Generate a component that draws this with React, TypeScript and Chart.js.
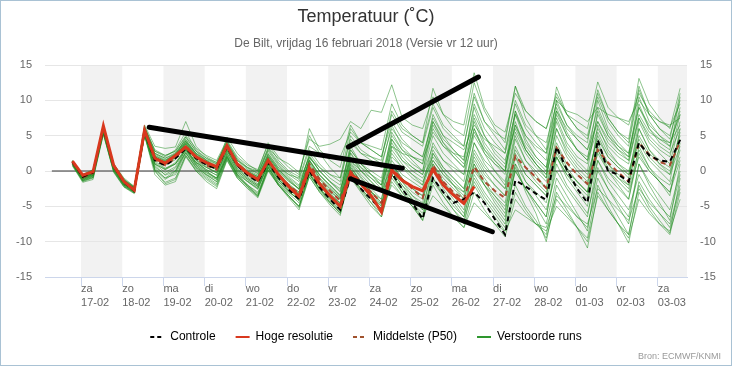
import React, { useEffect, useRef } from 'react';
import { Chart, registerables } from 'chart.js';

Chart.register(...registerables);

// ---------- axis / labels ----------
const dayLabels: string[][] = [
  ['za', '17-02'], ['zo', '18-02'], ['ma', '19-02'], ['di', '20-02'], ['wo', '21-02'],
  ['do', '22-02'], ['vr', '23-02'], ['za', '24-02'], ['zo', '25-02'], ['ma', '26-02'],
  ['di', '27-02'], ['wo', '28-02'], ['do', '01-03'], ['vr', '02-03'], ['za', '03-03'],
];
const greyBandDays = [0, 2, 4, 6, 8, 10, 12, 14];
const yMin = -15;
const yMax = 15;
const yStep = 5;
const xMinHour = -21;
const xMaxHour = 353;

// first value: 16-02 19:00 (hours relative to 17-02 00:00), 6-hourly
const startHour = -5;
const stepHours = 6;

// ---------- series ----------
const hogeResolutie = [
  1.4, -0.6, -0.1, 6.4, 0.8, -1.5, -2.7, 5.8, 1.8, 1.1,
  2.2, 3.4, 2.0, 1.2, 0.6, 3.6, 1.0, -0.3, -1.2, 1.5,
  -0.5, -2.2, -3.6, 0.4, -1.8, -3.5, -5.0, -0.3, -1.8, -3.5,
  -5.8, 0.1, -1.3, -2.2, -2.8, 0.2, -2.0, -3.4, -4.6, -2.2,
];

const controle = [
  1.3, -0.8, -0.2, 6.1, 0.7, -1.6, -2.8, 5.6, 1.5, 0.8,
  1.8, 3.2, 1.8, 0.9, 0.3, 3.4, 0.8, -0.6, -1.5, 1.2,
  -0.9, -2.6, -4.0, 0.0, -2.3, -4.0, -5.5, -0.8, -2.5, -4.0,
  -5.5, -0.3, -2.5, -4.5, -6.8, -1.0, -3.0, -4.5, -4.0, -3.0,
  -4.5, -6.8, -9.0, -1.3, -2.2, -3.2, -4.1, 3.4, 0.2, -2.5,
  -4.5, 4.4, 0.0, -0.5, -1.5, 4.0, 2.2, 1.5, 1.3, 4.4,
];

const middelste = [
  1.2, -0.9, -0.3, 6.0, 0.6, -1.6, -2.6, 5.7, 1.6, 0.8,
  1.8, 3.6, 1.8, 0.8, 0.2, 3.4, 0.8, -0.5, -1.4, 1.6,
  -0.6, -2.0, -3.2, 1.0, -1.2, -2.8, -4.2, 0.0, -1.5, -3.0,
  -4.5, 0.5, -1.2, -2.5, -3.8, 0.8, -1.5, -3.0, -4.0, 0.6,
  -1.5, -2.8, -3.8, 2.1, 0.5, -0.9, -2.4, 3.3, 1.2, -0.5,
  -1.8, 3.0, 1.2, -0.2, -1.5, 4.0, 2.3, 1.3, 0.8, 4.2,
];

const verstoordeRuns: number[][] = [
  [1.3, -0.8, -0.2, 6.0, 0.8, -1.4, -2.4, 5.9, 2.5, 1.8, 2.4, 4.2, 2.5, 1.6, 1.0, 3.8, 1.5, 0.5, 0.0, 3.2, 1.8, 1.0, -0.2, 4.5, 3.5, 3.8, 4.5, 7.0, 6.0, 8.6, 8.3, 12.2, 7.6, 6.5, 6.0, 10.5, 8.0, 7.0, 6.5, 13.9, 9.0, 6.5, 5.5, 11.0, 8.5, 7.0, 6.0, 10.5, 8.0, 7.0, 6.0, 12.6, 9.0, 7.5, 6.5, 11.0, 8.5, 7.0, 6.2, 9.5],
  [1.0, -1.2, -0.6, 5.6, 0.4, -1.8, -2.8, 5.2, 1.0, 0.2, 1.0, 3.0, 1.2, 0.5, -0.2, 2.8, 0.8, -0.2, -0.8, 2.5, 0.5, -0.5, -1.0, 3.5, 2.5, 2.0, 2.0, 5.5, 4.0, 3.5, 3.0, 9.5, 6.5, 5.0, 4.0, 11.7, 8.0, 6.0, 5.0, 12.5, 8.5, 6.0, 4.0, 12.0, 7.5, 5.0, 3.0, 11.9, 8.0, 6.0, 5.0, 11.0, 7.5, 5.5, 4.5, 13.1, 9.5, 7.5, 6.0, 11.7],
  [1.5, -0.5, 0.1, 6.3, 1.0, -1.0, -2.2, 6.2, 3.0, 2.2, 2.8, 5.0, 3.2, 2.2, 1.5, 4.4, 2.0, 0.8, 0.2, 3.8, 1.5, 0.0, -0.8, 6.0, 3.0, 1.5, 0.5, 6.5, 4.0, 3.0, 2.0, 8.0, 5.5, 4.5, 3.5, 9.0, 6.0, 4.5, 3.5, 11.0, 7.0, 5.0, 3.0, 9.5, 6.0, 4.0, 2.5, 10.0, 8.5, 8.0, 7.0, 9.0, 8.0, 7.5, 7.0, 10.0, 8.0, 7.0, 6.5, 7.5],
  [0.8, -1.5, -1.0, 5.2, 0.0, -2.2, -3.1, 5.0, 0.2, -1.0, 0.0, 3.2, 1.0, 0.0, -1.0, 2.2, -0.5, -1.5, -2.5, 0.8, -1.5, -3.0, -4.0, 1.8, 0.5, -0.5, -1.0, 4.5, 2.5, 1.5, 0.5, 6.5, 3.5, 2.0, 1.0, 8.0, 5.0, 3.0, 1.5, 9.0, 5.0, 2.5, 1.0, 8.5, 4.5, 2.0, 0.5, 9.0, 5.5, 3.0, 1.5, 10.0, 6.0, 4.0, 2.5, 9.0, 6.0, 4.0, 3.0, 10.5],
  [1.1, -1.0, -0.3, 5.9, 0.6, -1.6, -2.5, 5.6, 2.0, 1.2, 2.0, 4.0, 2.2, 1.0, 0.3, 3.3, 0.8, -0.4, -1.2, 2.0, 0.0, -1.5, -2.5, 2.5, 0.5, -1.0, -2.0, 3.0, 1.0, 0.0, -1.0, 5.0, 3.0, 2.0, 1.0, 6.5, 4.0, 2.5, 1.0, 7.0, 3.5, 1.5, 0.0, 8.0, 4.0, 2.0, 0.5, 7.5, 4.0, 2.0, 1.0, 8.0, 5.0, 3.5, 2.5, 9.5, 6.0, 4.5, 3.5, 8.5],
  [1.3, -0.7, -0.1, 6.1, 0.9, -1.3, -2.3, 6.5, 3.5, 3.2, 3.4, 7.0, 3.5, 2.0, 1.2, 4.2, 1.5, 0.2, -0.6, 3.0, 1.0, -0.5, -1.5, 2.0, 0.0, -1.5, -2.5, 1.5, -0.5, -2.0, -3.0, 3.5, 2.5, 2.0, 1.5, 5.5, 3.5, 2.5, 2.0, 8.0, 5.0, 3.0, 1.5, 6.0, 3.0, 1.0, -0.5, 8.5, 5.0, 3.0, 2.0, 7.0, 4.0, 2.5, 1.5, 8.0, 5.5, 4.5, 4.0, 6.5],
  [0.9, -1.3, -0.7, 5.5, 0.2, -2.0, -3.0, 5.3, 0.5, -1.0, -0.5, 2.5, 0.5, -0.5, -1.2, 2.0, -0.5, -2.0, -3.0, 0.5, -1.5, -3.0, -4.0, 0.0, -2.0, -3.5, -4.5, 2.0, 0.5, -0.5, -1.5, 4.5, 2.0, 0.5, -0.5, 3.5, 1.5, 0.5, -0.5, 5.0, 2.5, 1.0, 0.0, 7.0, 3.0, 1.0, -0.5, 6.0, 2.5, 0.5, -1.0, 5.0, 2.0, 0.5, -0.5, 6.0, 3.0, 1.5, 0.5, 5.0],
  [1.2, -0.9, -0.4, 5.8, 0.5, -1.7, -2.6, 5.7, 1.6, 0.8, 1.6, 3.8, 1.8, 0.8, 0.2, 3.2, 0.6, -0.6, -1.5, 1.6, -0.5, -2.0, -3.2, 0.8, -1.5, -3.0, -4.0, 0.5, -1.5, -3.0, -4.5, 1.5, -0.5, -1.5, -2.5, 2.5, 0.5, -1.0, -2.5, 3.0, 0.5, -1.0, -2.5, 4.5, 1.5, 0.0, -1.5, 4.0, 1.0, -0.5, -2.0, 5.5, 2.5, 1.0, 0.0, 4.5, 2.0, 0.5, -0.5, 3.5],
  [1.4, -0.6, 0.0, 6.2, 0.8, -1.4, -2.4, 6.0, 2.2, 1.5, 2.5, 4.5, 2.5, 1.5, 0.8, 3.8, 1.2, 0.0, -0.8, 2.2, 0.2, -1.2, -2.5, 1.5, -0.5, -2.0, -3.5, 0.0, -1.5, -3.0, -4.0, 2.0, 0.5, -0.5, -1.5, 1.5, -0.5, -2.0, -3.0, 2.0, -0.5, -2.0, -3.5, 3.0, 0.5, -1.0, -2.5, 5.0, 2.0, 0.0, -1.5, 3.5, 1.0, -0.5, -2.0, 5.0, 2.5, 1.0, 0.0, 4.5],
  [1.0, -1.1, -0.5, 5.7, 0.3, -1.9, -2.8, 5.3, 0.2, -1.2, -0.2, 2.8, 0.8, -0.3, -1.0, 2.5, 0.0, -1.2, -2.2, 1.0, -1.0, -2.5, -3.8, -0.5, -2.5, -4.0, -5.0, -1.0, -2.5, -4.0, -5.5, 0.5, -1.5, -3.0, -4.0, 1.0, -1.0, -2.5, -4.0, 1.5, -1.0, -3.0, -4.5, 2.5, -0.5, -2.0, -3.5, 3.0, 0.0, -1.5, -3.0, 4.0, 1.0, -1.0, -2.5, 3.0, 0.5, -1.0, -2.0, 2.0],
  [1.3, -0.8, -0.3, 6.0, 0.7, -1.5, -2.5, 5.8, 2.0, 1.0, 1.8, 3.5, 1.5, 0.5, -0.3, 2.8, 0.3, -1.0, -2.0, 1.2, -0.8, -2.2, -3.5, 0.5, -1.8, -3.2, -4.5, 1.5, 0.0, -1.0, -2.0, 4.0, 1.5, 0.0, -1.0, 2.0, 0.0, -1.5, -3.0, 4.0, 1.0, -1.0, -2.5, 2.0, -0.5, -2.0, -3.5, 2.5, 0.0, -1.5, -3.0, 3.0, 0.5, -1.0, -2.0, 6.0, 3.0, 1.0, -0.5, 5.5],
  [1.1, -1.0, -0.5, 5.8, 0.4, -1.8, -2.7, 5.5, 1.2, 0.3, 1.2, 3.2, 1.2, 0.2, -0.6, 3.0, 0.2, -1.0, -2.0, 1.8, -0.5, -2.0, -3.0, 1.5, -1.0, -2.5, -3.8, 2.5, 0.0, -1.5, -3.0, 1.0, -1.0, -2.5, -3.5, 0.5, -1.5, -3.0, -4.5, 0.0, -2.0, -3.5, -5.0, 1.0, -1.5, -3.0, -4.5, 2.0, -0.5, -2.0, -3.5, 2.5, 0.0, -1.5, -3.0, 2.0, 0.0, -1.5, -3.0, 3.0],
  [1.5, -0.5, 0.2, 6.4, 1.0, -1.2, -2.3, 6.3, 2.8, 2.0, 3.0, 5.5, 3.0, 1.8, 1.0, 4.2, 1.8, 0.5, -0.3, 2.8, 0.8, -0.8, -2.0, 2.0, 0.0, -1.5, -3.0, 3.5, 1.0, -0.5, -2.0, 2.5, 0.5, -1.0, -2.0, 4.0, 1.5, 0.0, -1.5, 6.0, 2.5, 0.0, -2.0, 5.0, 1.5, -0.5, -2.5, 3.5, 0.5, -1.5, -3.0, 6.5, 3.0, 1.0, -0.5, 4.0, 1.5, 0.0, -1.5, 6.0],
  [0.7, -1.6, -1.2, 5.2, -0.2, -2.3, -3.2, 5.0, -0.5, -2.0, -1.5, 2.0, 0.0, -1.5, -2.5, 1.5, -1.0, -2.5, -3.8, 0.0, -2.0, -3.5, -5.0, -0.5, -2.5, -4.5, -6.0, -1.0, -3.0, -5.0, -6.5, -1.0, -3.0, -4.5, -6.0, -1.5, -3.5, -5.5, -7.0, -2.0, -4.5, -6.5, -8.5, -3.0, -5.5, -7.5, -9.0, -2.0, -4.5, -6.5, -8.0, -1.0, -4.0, -6.5, -9.0, -1.5, -4.0, -6.0, -8.0, -2.5],
  [0.9, -1.4, -0.9, 5.4, 0.0, -2.1, -3.0, 5.1, 0.0, -1.8, -1.2, 2.2, 0.2, -1.0, -2.0, 1.8, -0.8, -2.0, -3.2, 0.5, -1.8, -3.2, -4.5, -0.2, -2.5, -4.0, -5.5, 0.5, -1.5, -3.5, -5.5, 0.0, -2.0, -4.0, -5.5, -1.0, -3.0, -5.0, -6.5, -0.5, -3.0, -5.0, -7.0, 1.0, -3.0, -6.0, -10.0, -3.0, -5.5, -8.0, -10.9, -3.0, -5.5, -7.5, -9.0, -2.0, -5.0, -7.0, -8.8, -1.0],
  [1.0, -1.3, -0.8, 5.6, 0.1, -2.0, -3.0, 5.4, 0.6, -0.5, 0.4, 2.6, 0.6, -0.6, -1.5, 2.2, -0.3, -1.5, -2.6, 1.0, -1.2, -2.8, -4.2, 0.2, -2.0, -3.8, -5.2, -0.5, -2.5, -4.5, -6.5, -1.5, -3.5, -5.0, -7.0, -2.0, -4.5, -6.5, -8.0, -3.0, -5.5, -7.5, -9.3, -4.0, -6.0, -7.5, -8.5, -5.0, -6.5, -8.0, -9.5, -2.0, -5.0, -7.5, -10.2, -3.0, -5.5, -7.5, -9.0, -3.0],
  [1.2, -1.0, -0.4, 5.9, 0.5, -1.7, -2.7, 5.6, 1.4, 0.4, 1.0, 3.0, 0.8, -0.5, -1.5, 2.0, -0.5, -2.0, -3.5, 0.5, -2.0, -3.8, -5.5, -0.8, -3.0, -4.8, -6.3, 0.0, -2.0, -3.5, -5.0, 1.0, -1.5, -3.5, -5.0, 0.0, -2.0, -4.0, -6.0, 1.0, -2.0, -4.5, -6.5, 0.0, -2.5, -4.5, -6.5, 1.0, -2.0, -4.0, -6.0, 0.0, -2.5, -4.5, -6.5, 1.0, -1.5, -3.5, -5.5, 0.0],
  [1.3, -0.7, -0.2, 6.1, 0.7, -1.5, -2.5, 6.0, 2.4, 1.6, 2.2, 3.8, 1.5, 0.0, -1.2, 2.0, -0.6, -2.2, -3.6, 0.6, -1.8, -3.5, -5.2, -0.8, -3.0, -4.5, -6.0, -0.5, -2.5, -4.0, -5.5, -2.0, -3.5, -5.0, -6.5, -3.5, -5.0, -6.5, -8.0, -4.5, -6.0, -7.5, -8.5, -5.5, -6.5, -7.5, -8.0, -3.5, -5.0, -6.5, -7.5, -2.5, -4.0, -5.5, -7.0, -2.5, -4.5, -6.0, -7.5, -2.0],
  [1.2, -0.9, -0.3, 6.0, 0.6, -1.6, -2.6, 5.6, 1.8, 1.0, 2.0, 4.8, 2.8, 1.5, 0.5, 4.8, 2.5, 1.0, 0.0, 4.0, 2.0, 0.5, -0.5, 5.0, 2.5, 0.5, -1.0, 6.0, 4.0, 3.0, 2.0, 7.0, 4.5, 3.0, 2.0, 7.5, 5.0, 4.0, 3.0, 6.5, 4.5, 3.5, 2.5, 10.0, 6.5, 5.0, 4.0, 9.5, 6.5, 5.0, 4.0, 11.5, 7.5, 5.5, 4.0, 12.0, 8.0, 6.0, 5.0, 10.0],
  [1.4, -0.7, 0.0, 6.3, 0.9, -1.3, -2.4, 6.1, 2.0, 1.2, 2.0, 3.9, 2.0, 1.0, 0.2, 3.5, 0.8, -0.5, -1.5, 1.5, -0.5, -2.0, -3.2, 1.0, -1.2, -2.8, -4.0, 1.2, -0.8, -2.5, -4.0, 3.0, 1.0, -0.5, -2.0, 3.0, 0.5, -1.0, -2.5, 4.0, 1.5, 0.0, -1.5, 5.5, 2.5, 0.5, -1.0, 6.0, 3.0, 1.0, -0.5, 4.5, 2.0, 0.5, -1.0, 7.0, 4.0, 2.5, 1.0, 7.0],
  [1.2, -0.9, -0.4, 5.9, 0.6, -1.6, -2.6, 5.8, 2.2, 1.4, 2.2, 4.0, 2.0, 1.0, 0.4, 3.4, 0.9, -0.3, -1.2, 1.8, -0.3, -1.8, -3.0, 1.2, -1.0, -2.5, -3.8, 2.0, 0.0, -1.5, -3.0, 3.5, 1.5, 0.5, -0.5, 5.0, 2.5, 1.0, -0.5, 7.5, 4.0, 2.0, 0.5, 6.5, 3.0, 1.0, -1.0, 7.0, 3.5, 1.5, 0.0, 8.5, 5.0, 3.0, 1.5, 7.5, 4.5, 3.0, 2.0, 8.0],
  [1.1, -1.1, -0.6, 5.7, 0.3, -1.9, -2.9, 5.4, 1.0, -0.2, 0.6, 3.0, 1.0, -0.2, -1.0, 2.4, -0.2, -1.4, -2.4, 0.8, -1.2, -2.8, -4.2, 0.2, -2.2, -3.8, -5.2, 0.8, -1.5, -3.0, -4.8, -0.5, -2.5, -4.0, -5.5, 1.0, -1.5, -3.5, -5.5, 0.5, -2.0, -4.0, -6.0, 2.0, -1.5, -3.5, -5.5, 0.0, -2.5, -4.5, -6.5, 1.5, -1.5, -3.5, -5.5, -0.5, -3.0, -5.0, -6.5, -0.5],
  [1.4, -0.6, 0.1, 6.3, 1.0, -1.2, -2.2, 6.2, 2.8, 2.2, 2.8, 4.8, 2.8, 1.8, 1.2, 4.0, 1.6, 0.4, -0.4, 3.2, 1.2, -0.2, -1.2, 3.0, 1.0, -0.5, -1.5, 5.0, 3.0, 2.0, 1.0, 6.0, 4.0, 3.0, 2.0, 7.0, 4.5, 3.0, 1.5, 9.5, 6.0, 4.0, 2.5, 8.0, 5.0, 3.5, 2.5, 8.5, 6.0, 4.5, 3.0, 7.0, 4.5, 3.0, 2.0, 9.0, 6.5, 5.0, 4.0, 8.0],
  [1.3, -0.8, -0.2, 6.1, 0.7, -1.5, -2.5, 5.9, 1.8, 1.2, 2.0, 3.6, 1.6, 0.6, -0.2, 3.0, 0.4, -0.8, -1.8, 1.2, -0.9, -2.4, -3.6, 0.6, -1.6, -3.2, -4.6, 0.2, -1.8, -3.4, -5.0, 1.0, -1.0, -2.5, -3.5, 1.5, -0.5, -2.0, -3.5, 2.5, 0.0, -2.0, -3.5, 3.5, 0.5, -1.5, -3.0, 2.0, -0.5, -2.5, -4.0, 1.5, -1.0, -2.5, -4.0, 2.5, 0.0, -1.5, -3.0, 1.5],
  [1.0, -1.2, -0.7, 5.6, 0.2, -2.0, -2.9, 5.3, 0.8, -0.6, 0.0, 2.6, 0.4, -0.8, -1.8, 1.8, -0.8, -2.2, -3.4, 0.2, -2.0, -3.6, -5.0, -0.4, -2.8, -4.4, -5.8, -0.8, -2.8, -4.5, -6.0, -0.5, -2.5, -4.5, -6.5, -1.0, -3.5, -5.5, -7.5, -1.5, -4.0, -6.0, -8.0, -2.0, -5.0, -7.0, -9.5, -4.0, -6.0, -8.0, -10.0, -3.5, -5.5, -7.5, -9.5, -4.0, -6.0, -7.5, -8.5, -4.0],
  [1.2, -0.8, -0.3, 6.0, 0.7, -1.5, -2.5, 5.8, 2.0, 1.2, 2.0, 4.2, 2.4, 1.4, 0.6, 3.6, 1.2, 0.0, -0.8, 2.4, 0.4, -1.0, -2.2, 2.2, 0.0, -1.5, -2.8, 3.0, 1.0, -0.5, -2.0, 5.5, 3.0, 1.5, 0.0, 6.0, 3.5, 2.0, 0.5, 5.5, 3.0, 1.5, 0.0, 8.5, 5.0, 3.0, 1.5, 10.0, 6.5, 4.5, 3.0, 9.0, 5.5, 3.5, 2.0, 10.5, 7.0, 5.0, 3.5, 9.0],
  [1.2, -1.0, -0.5, 5.8, 0.4, -1.8, -2.8, 5.5, 1.0, 0.2, 1.0, 3.2, 1.2, 0.2, -0.6, 2.6, 0.0, -1.2, -2.2, 1.0, -1.2, -2.6, -3.8, 0.4, -1.8, -3.4, -4.8, 1.0, -1.0, -2.8, -4.5, 0.0, -2.0, -3.5, -4.5, 2.5, 0.0, -2.0, -4.0, 1.0, -1.5, -3.5, -5.5, 0.0, -2.5, -4.5, -6.5, 2.0, -1.0, -3.0, -5.0, 3.0, 0.0, -2.0, -4.0, 3.5, 0.5, -1.5, -3.5, 4.0],
  [1.3, -0.7, -0.1, 6.1, 0.8, -1.4, -2.4, 6.0, 2.5, 1.8, 2.6, 4.4, 2.4, 1.2, 0.5, 3.6, 1.0, -0.2, -1.0, 2.0, 0.0, -1.4, -2.6, 1.4, -0.6, -2.0, -3.4, 4.0, 2.5, 2.0, 1.5, 8.5, 6.0, 5.0, 4.0, 9.5, 6.5, 5.0, 3.5, 10.5, 7.0, 5.5, 4.5, 12.0, 8.5, 7.0, 6.0, 11.0, 8.0, 6.0, 4.5, 10.5, 7.0, 5.0, 3.5, 11.5, 8.0, 6.0, 4.5, 11.0],
  [0.9, -1.4, -0.9, 5.4, -0.1, -2.2, -3.1, 5.1, 0.0, -1.6, -1.0, 2.2, 0.0, -1.2, -2.2, 1.6, -1.0, -2.4, -3.6, 0.2, -2.0, -3.6, -5.0, -0.2, -2.6, -4.2, -5.6, 0.2, -2.0, -3.8, -5.5, -0.5, -3.0, -5.0, -7.0, 0.0, -2.5, -4.5, -6.5, -1.0, -3.5, -5.5, -7.5, 0.5, -2.5, -5.0, -7.5, -1.0, -3.5, -6.0, -8.5, 0.5, -2.5, -5.0, -7.5, 1.0, -2.0, -4.5, -7.0, 1.0],
  [1.3, -0.8, -0.3, 6.1, 0.8, -1.5, -2.5, 5.9, 2.0, 1.4, 2.4, 4.2, 2.2, 1.2, 0.4, 3.6, 1.0, -0.3, -1.2, 2.2, 0.2, -1.2, -2.6, 1.6, -0.6, -2.2, -3.6, 2.6, 0.5, -1.0, -2.5, 4.5, 2.5, 1.0, 0.0, 7.0, 4.0, 2.0, 0.5, 6.0, 3.0, 1.0, -0.5, 6.5, 3.5, 1.5, 0.0, 8.0, 5.0, 3.0, 1.5, 6.0, 3.5, 2.0, 1.0, 7.5, 5.0, 3.5, 2.5, 6.0],
];

// zero reference line [hour, value]
const nulLijn: number[][] = [[-17, 0], [330, 0]];

// hand-drawn black marker strokes [hour, value]
const markeringen: number[][][] = [
  [[39.7, 6.2], [187.2, 0.4]],
  [[155.7, 3.4], [231.5, 13.3]],
  [[156.9, -1.1], [239.6, -8.6]],
];

const legendEntries = [
  { text: 'Controle', color: '#000000', dash: [4, 3] },
  { text: 'Hoge resolutie', color: '#d9381e', dash: [] as number[] },
  { text: 'Middelste (P50)', color: '#a0522d', dash: [4, 3] },
  { text: 'Verstoorde runs', color: '#2e962e', dash: [] as number[] },
];

const FONT = '"Liberation Sans", Arial, sans-serif';

export default function App() {
  const ref = useRef<HTMLCanvasElement>(null);

  useEffect(() => {
    document.body.style.margin = '0';
    const canvas = ref.current;
    if (!canvas) return;
    const toPts = (arr: number[]) => arr.map((v, i) => ({ x: startHour + i * stepHours, y: v }));

    const datasets: any[] = [];
    markeringen.forEach((seg) =>
      datasets.push({
        label: '',
        data: seg.map(([x, y]) => ({ x, y })),
        borderColor: '#000',
        borderWidth: 5,
        borderCapStyle: 'round',
        order: 0,
      })
    );
    datasets.push({ label: 'Hoge resolutie', data: toPts(hogeResolutie), borderColor: '#d9381e', borderWidth: 3, order: 1 });
    datasets.push({ label: 'Controle', data: toPts(controle), borderColor: '#000', borderWidth: 2, borderDash: [5, 4], order: 2 });
    datasets.push({ label: 'Middelste (P50)', data: toPts(middelste), borderColor: '#a8492f', borderWidth: 2, borderDash: [5, 4], order: 3 });
    verstoordeRuns.forEach((r, k) =>
      datasets.push({ label: k === 0 ? 'Verstoorde runs' : '', data: toPts(r), borderColor: 'rgba(30,140,30,0.5)', borderWidth: 1, order: 4 })
    );
    datasets.push({ label: '', data: nulLijn.map(([x, y]) => ({ x, y })), borderColor: '#333', borderWidth: 1, order: 5 });

    const bandsPlugin = {
      id: 'bands',
      beforeDraw(chart: any) {
        const { ctx, chartArea, scales } = chart;
        const x = scales.x;
        ctx.save();
        ctx.fillStyle = '#f2f2f2';
        greyBandDays.forEach((d) => {
          const x0 = Math.max(x.getPixelForValue(d * 24), chartArea.left);
          const x1 = Math.min(x.getPixelForValue((d + 1) * 24), chartArea.right);
          if (x1 > x0) ctx.fillRect(x0, chartArea.top, x1 - x0, chartArea.bottom - chartArea.top);
        });
        ctx.restore();
      },
      afterDraw(chart: any) {
        const { ctx } = chart;
        ctx.save();
        ctx.font = `9px ${FONT}`;
        ctx.fillStyle = '#999999';
        ctx.textAlign = 'right';
        ctx.textBaseline = 'middle';
        ctx.fillText('Bron: ECMWF/KNMI', 720, 356);
        ctx.restore();
      },
    };

    const chart = new Chart(canvas, {
      type: 'line',
      data: { datasets },
      plugins: [bandsPlugin],
      options: {
        animation: false,
        responsive: false,
        events: [],
        elements: { point: { radius: 0 }, line: { tension: 0 } },
        layout: { padding: { top: 0, left: 0, right: 0, bottom: 12 } },
        font: { family: FONT },
        scales: {
          x: {
            type: 'linear',
            min: xMinHour,
            max: xMaxHour,
            afterBuildTicks: (s: any) => {
              s.ticks = dayLabels.map((_, d) => ({ value: d * 24 }));
            },
            afterFit: (s: any) => {
              s.height = 34;
            },
            ticks: {
              autoSkip: false,
              maxRotation: 0,
              minRotation: 0,
              align: 'start',
              padding: -4,
              color: '#666666',
              font: { size: 11, family: FONT, lineHeight: 1.27 },
              callback: (_v: any, i: number) => dayLabels[i],
            },
            grid: { drawOnChartArea: false, drawTicks: true, tickLength: 9, color: '#ccd6eb' },
            border: { display: true, color: '#ccd6eb' },
          },
          y: {
            type: 'linear',
            position: 'left',
            min: yMin,
            max: yMax,
            afterFit: (s: any) => {
              s.width = 44;
            },
            ticks: { stepSize: yStep, padding: 13, color: '#666666', font: { size: 11, family: FONT } },
            grid: { color: '#e6e6e6', drawTicks: false },
            border: { display: false },
          },
          y2: {
            type: 'linear',
            position: 'right',
            display: true,
            min: yMin,
            max: yMax,
            afterFit: (s: any) => {
              s.width = 44;
            },
            ticks: { stepSize: yStep, padding: 13, color: '#666666', font: { size: 11, family: FONT } },
            grid: { display: false, drawTicks: false },
            border: { display: false },
          },
        },
        plugins: {
          title: {
            display: true,
            text: 'Temperatuur (˚C)',
            color: '#333333',
            font: { size: 18, weight: 'normal', family: FONT },
            padding: { top: 5, bottom: 0 },
          },
          subtitle: {
            display: true,
            text: 'De Bilt, vrijdag 16 februari 2018 (Versie vr 12 uur)',
            color: '#666666',
            font: { size: 12, weight: 'normal', family: FONT },
            padding: { top: 9, bottom: 14 },
          },
          legend: {
            display: true,
            position: 'bottom',
            labels: {
              usePointStyle: true,
              pointStyleWidth: 14,
              padding: 20,
              color: '#333333',
              font: { size: 12, family: FONT },
              generateLabels: () =>
                legendEntries.map((e, i) => ({
                  text: e.text,
                  strokeStyle: e.color,
                  fillStyle: e.color,
                  lineWidth: 2,
                  lineDash: e.dash,
                  pointStyle: 'line',
                  hidden: false,
                  datasetIndex: i,
                })) as any,
            },
          },
          tooltip: { enabled: false },
        },
      } as any,
    });
    return () => chart.destroy();
  }, []);

  return (
    <div
      style={{
        width: 732,
        height: 366,
        boxSizing: 'border-box',
        border: '1px solid #a9c2d4',
        background: '#ffffff',
        position: 'relative',
      }}
    >
      <canvas ref={ref} width={730} height={364} style={{ display: 'block', width: 730, height: 364 }} />
    </div>
  );
}
